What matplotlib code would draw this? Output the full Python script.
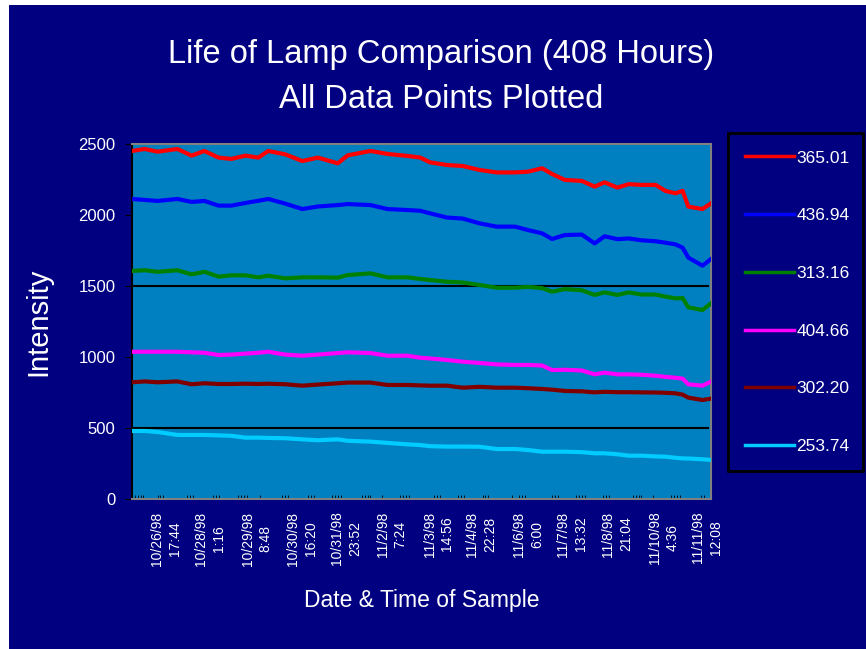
import numpy as np
import matplotlib
matplotlib.use("Agg")
import matplotlib.pyplot as plt
from matplotlib.patches import Rectangle

plt.rcParams['font.family'] = ['Liberation Sans', 'DejaVu Sans']

# Horas de muestreo (408 horas en total)
hours = [0, 9, 18, 32, 42, 51, 61, 70, 80, 89, 96, 108, 120, 131, 145, 152, 168,
         180, 194, 203, 210, 222, 233, 245, 257, 270, 279, 289, 296, 305, 317,
         326, 333, 342, 350, 359, 369, 376, 383, 388, 392, 402, 408]

# Intensidad de cada longitud de onda
s365 = [2451, 2465, 2446, 2465, 2418, 2451, 2404, 2395, 2418, 2404, 2451, 2427,
        2380, 2404, 2364, 2420, 2451, 2430, 2416, 2405, 2371, 2352, 2345, 2317,
        2300, 2300, 2305, 2329, 2289, 2247, 2240, 2200, 2230, 2193, 2217, 2212,
        2212, 2169, 2153, 2170, 2059, 2042, 2082]
s436 = [2113, 2106, 2099, 2113, 2092, 2099, 2066, 2066, 2085, 2100, 2113, 2080,
        2042, 2060, 2070, 2077, 2070, 2042, 2035, 2030, 2012, 1982, 1975, 1941,
        1918, 1918, 1894, 1871, 1831, 1859, 1862, 1800, 1850, 1830, 1835, 1822,
        1815, 1805, 1793, 1770, 1700, 1643, 1690]
s313 = [1606, 1611, 1600, 1611, 1582, 1600, 1566, 1575, 1575, 1561, 1572, 1554,
        1561, 1561, 1559, 1577, 1589, 1561, 1561, 1550, 1542, 1530, 1525, 1507,
        1488, 1488, 1494, 1485, 1460, 1478, 1470, 1437, 1455, 1437, 1455, 1440,
        1440, 1425, 1413, 1415, 1350, 1331, 1378]
s404 = [1037, 1037, 1037, 1037, 1033, 1030, 1014, 1017, 1024, 1030, 1037, 1017,
        1009, 1017, 1028, 1033, 1028, 1009, 1009, 995, 990, 979, 967, 958,
        948, 944, 944, 940, 908, 910, 905, 878, 890, 878, 878, 875,
        868, 860, 854, 848, 808, 798, 826]
s302 = [822, 828, 822, 828, 808, 815, 810, 810, 812, 810, 812, 808,
        798, 806, 815, 820, 820, 803, 803, 800, 798, 798, 784, 790,
        784, 784, 780, 775, 770, 761, 758, 751, 755, 752, 752, 751,
        750, 748, 744, 735, 714, 697, 707]
s253 = [479, 479, 472, 451, 451, 451, 448, 445, 432, 432, 430, 428,
        420, 414, 420, 410, 404, 395, 385, 380, 372, 369, 369, 368,
        352, 352, 345, 333, 333, 333, 330, 322, 322, 315, 305, 305,
        300, 298, 290, 286, 285, 280, 275]

series_names = ['365.01', '436.94', '313.16', '404.66', '302.20', '253.74']
series_colors = ['#ff0000', '#0000ff', '#008000', '#ff00ff', '#800000', '#00ccff']

# Etiquetas del eje x
tick_hours = [24, 55, 88, 120, 151, 183, 216, 246, 279, 310, 342, 375, 405]
tick_labels = ['10/26/98\n17:44', '10/28/98\n1:16', '10/29/98\n8:48',
               '10/30/98\n16:20', '10/31/98\n23:52', '11/2/98\n7:24',
               '11/3/98\n14:56', '11/4/98\n22:28', '11/6/98\n6:00',
               '11/7/98\n13:32', '11/8/98\n21:04', '11/10/98\n4:36',
               '11/11/98\n12:08']

# lineas de la cuadricula visibles
grid_values = [500, 1500]

# grupos de marcas menores (inicio, cantidad)
minor_groups = [(2, 4), (18, 4), (39, 3), (57, 3), (75, 4), (90, 1), (106, 3),
                (124, 3), (141, 4), (162, 4), (176, 1), (189, 4), (213, 3),
                (230, 3), (247, 3), (268, 1), (273, 4), (296, 3), (313, 4),
                (332, 3), (353, 4), (367, 1), (380, 4), (401, 3)]

navy = '#000080'
plot_bg = '#0080c0'


def main():
    fig = plt.figure(figsize=(8.66, 6.49), dpi=100)
    fig.patch.set_facecolor('white')
    # fondo azul marino (franja blanca arriba e izquierda)
    fig.patches.append(Rectangle((9 / 866, 0), 1, 644 / 649, transform=fig.transFigure,
                                 facecolor=navy, edgecolor='none', zorder=-10))

    ax = fig.add_axes([132 / 866, 1 - 499 / 649, 579 / 866, 355 / 649])
    ax.set_facecolor(plot_bg)

    for g in grid_values:
        ax.axhline(g, xmin=0, xmax=0.995, color='black', lw=1.5, zorder=1)

    data = [s365, s436, s313, s404, s302, s253]
    for vals, name, c in zip(data, series_names, series_colors):
        ax.plot(hours, vals, color=c, lw=3, label=name, zorder=3)

    ax.set_xlim(0, 408)
    ax.set_ylim(0, 2500)
    ax.set_yticks([0, 500, 1000, 1500, 2000, 2500])
    ax.set_yticklabels(['0', '500', '1000', '1500', '2000', '2500'])

    ax.set_xticks(tick_hours)
    ax.set_xticklabels(tick_labels, rotation=90, fontsize=10, color='white',
                       linespacing=1.35)
    minor = []
    for start, n in minor_groups:
        for i in range(n):
            minor.append(start + 2 * i)
    ax.set_xticks(minor, minor=True)
    ax.tick_params(axis='x', which='major', length=0, pad=9)
    ax.tick_params(axis='x', which='minor', direction='in', length=3, color='black')
    ax.tick_params(axis='y', direction='out', length=5, color='black',
                   labelcolor='white', labelsize=12, pad=7)

    for s in ['top', 'right', 'bottom']:
        ax.spines[s].set_color('#808080')
        ax.spines[s].set_linewidth(1.5)
    ax.spines['left'].set_color('black')
    ax.spines['left'].set_linewidth(1.5)

    fig.text(441 / 866, 1 - 55 / 649, 'Life of Lamp Comparison (408 Hours)',
             color='white', fontsize=23.5, ha='center', va='center')
    fig.text(441 / 866, 1 - 100 / 649, 'All Data Points Plotted',
             color='white', fontsize=23.5, ha='center', va='center')
    fig.text(38 / 866, 1 - 322 / 649, 'Intensity', color='white', fontsize=21,
             rotation=90, ha='center', va='center')
    fig.text(422 / 866, 1 - 600 / 649, 'Date & Time of Sample', color='white',
             fontsize=16.5, ha='center', va='center')

    leg = ax.legend(loc='upper left', mode='expand',
                    bbox_to_anchor=(728 / 866, 1 - 511 / 649, 135 / 866, 378 / 649),
                    bbox_transform=fig.transFigure, borderaxespad=0,
                    fontsize=12.5, labelspacing=2.45, handlelength=2.8,
                    handletextpad=0.15, borderpad=1.0, frameon=True, fancybox=False)
    frame = leg.get_frame()
    frame.set_facecolor(navy)
    frame.set_edgecolor('black')
    frame.set_linewidth(2)
    frame.set_alpha(1)
    for t in leg.get_texts():
        t.set_color('white')
    for h in leg.get_lines():
        h.set_linewidth(2.5)

    fig.savefig('out.png', dpi=100, facecolor=fig.get_facecolor())


if __name__ == "__main__":
    main()
